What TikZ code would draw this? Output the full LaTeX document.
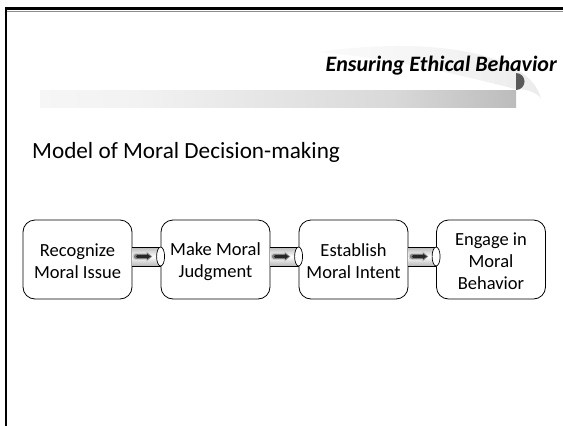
\documentclass[tikz,border=0pt]{standalone}
\usepackage{fontspec}
\setmainfont{Carlito}
\usetikzlibrary{calc,arrows.meta}
\pgfdeclarehorizontalshading{barshade}{100bp}{color(0bp)=(white); color(35bp)=(black!5); color(62bp)=(black!15); color(85bp)=(black!35); color(95bp)=(black!55); color(100bp)=(black!65)}
\pgfdeclarehorizontalshading{arcshade}{100bp}{color(0bp)=(white); color(50bp)=(black!4); color(85bp)=(black!9); color(100bp)=(black!16)}
\tikzset{
  stagebox/.style={draw=black, line width=0.8pt, rounded corners=12pt, fill=white,
    minimum width=109pt, minimum height=79pt, align=center, inner sep=2pt,
    font=\fontsize{18.5}{22}\selectfont},
  pipeline/.style={draw=black, line width=0.7pt},
}
\newcommand{\toplift}{\rule{0pt}{17pt}}
\begin{document}
\begin{tikzpicture}[x=1pt,y=-1pt]
\useasboundingbox (0,0) rectangle (563,426);
% swoosh crescent
\shade[shading=arcshade] (318,52) .. controls (430,36) and (530,52) .. (541,99)
  .. controls (538,93) and (528,89) .. (515,89) .. controls (450,72) and (380,57) .. (318,52) -- cycle;
% bar
\shade[shading=barshade] (40,90) rectangle (516,107);
\fill[black!65] (516,90) arc[start angle=90, end angle=-90, radius=8.5] -- cycle;
% frame
\draw[black!45, line width=1pt] (7,11.2) -- (563,11.2);
\draw[black, line width=2.6pt] (5.8,426) -- (5.8,8.7) -- (563,8.7);
% texts
\node[anchor=base east, inner sep=0pt, font=\bfseries\itshape\fontsize{22}{26}\selectfont] (title) at (557,71) {Ensuring Ethical Behavior};
\node[anchor=base west, inner sep=0pt, font=\fontsize{23.2}{27}\selectfont] (heading) at (32,158) {Model of Moral Decision-making};
% boxes
\node[stagebox] (b1) at (77.5,259.5) {\toplift Recognize\\Moral Issue};
\node[stagebox] (b2) at (215.5,259.5) {\toplift Make Moral\\Judgment};
\node[stagebox] (b3) at (353.5,259.5) {\toplift Establish\\Moral Intent};
\node[stagebox] (b4) at (491,259.5) {\toplift Engage in\\Moral\\Behavior};
% connectors
\foreach \a/\b in {b1/b2, b2/b3, b3/b4}{
  \path ($(\a.east)+(0,-3)$) coordinate (s) ($(\b.west)+(0,-3)$) coordinate (e);
  \shade[top color=black!28, bottom color=black!28, middle color=white] ($(s)+(0,-9.5)$) rectangle ($(e)+(0,9.5)$);
  \draw[pipeline] ($(s)+(0,-9.5)$) -- ($(e)+(0,-9.5)$) ($(s)+(0,9.5)$) -- ($(e)+(0,9.5)$);
  \draw[pipeline, fill=white] (e) ellipse[x radius=4, y radius=9.5];
  \draw[black!20, line width=7pt, line cap=round, -{Triangle[length=6pt,width=10pt]}] ($(s)+(3.5,0)$) -- ($(s)+(20,0)$);
  \draw[black!50, line width=5pt, line cap=round, -{Triangle[length=5pt,width=8pt]}] ($(s)+(4,0)$) -- ($(s)+(19.5,0)$);
  \draw[black!85, line width=3pt, line cap=round, -{Triangle[length=4pt,width=5pt]}] ($(s)+(5,0)$) -- ($(s)+(18.5,0)$);
}
\end{tikzpicture}
\end{document}
